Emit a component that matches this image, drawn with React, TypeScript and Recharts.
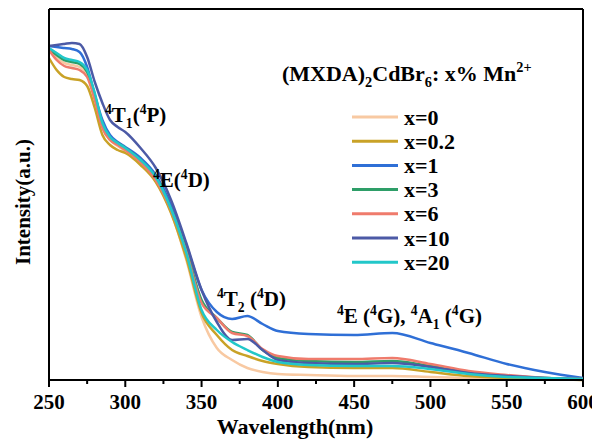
import { LineChart, Line, XAxis, YAxis, ReferenceLine } from "recharts";

const wavelengths = [250, 255, 260, 265, 270, 275, 280, 285, 290, 295, 300, 310, 320, 330, 340, 350, 360, 370, 380, 390, 400, 420, 450, 475, 500, 525, 550, 575, 600];

// absorbance in arbitrary units
const x0 = [330, 322, 317, 315, 313, 306, 282, 253, 240, 234, 229, 217, 199, 168, 120, 63, 32, 20, 12, 8, 6, 5, 4, 4, 3, 2, 1, 1, 0];
const x02 = [322, 310, 303, 301, 300, 294, 272, 245, 235, 230, 227, 215, 198, 167, 122, 67, 45, 30, 24, 19, 16, 13, 12, 12, 8, 4, 2, 1, 0];
const x1 = [334, 333, 332, 331, 328, 313, 285, 260, 245, 238, 233, 222, 205, 175, 135, 90, 68, 61, 64, 56, 49, 46, 45, 47, 37, 27, 16, 8, 2];
const x3 = [331, 325, 320, 318, 316, 308, 285, 255, 242, 237, 232, 220, 202, 171, 130, 80, 62, 48, 45, 30, 22, 19, 18, 19, 14, 8, 4, 2, 1];
const x6 = [330, 320, 314, 312, 310, 303, 280, 252, 240, 235, 230, 218, 200, 170, 128, 77, 62, 47, 44, 31, 24, 21, 21, 22, 16, 9, 5, 2, 1];
const x10 = [334, 335, 336, 337, 336, 323, 298, 277, 260, 253, 248, 232, 212, 180, 137, 90, 58, 40, 41, 30, 20, 17, 16, 17, 13, 7, 4, 2, 1];
const x20 = [332, 327, 322, 320, 318, 310, 287, 257, 243, 237, 232, 220, 203, 171, 127, 70, 50, 38, 30, 23, 18, 15, 14, 14, 11, 6, 3, 2, 1];

const names = ["x=0", "x=0.2", "x=1", "x=3", "x=6", "x=10", "x=20"];
const colors = ["#f8c9a2", "#c9a227", "#2f6fd6", "#2e9e68", "#ef7b6c", "#4c5aa6", "#22c7c9"];
const values = [x0, x02, x1, x3, x6, x10, x20];

const series = names.map((name, i) => ({ key: "s" + i, name, color: colors[i], values: values[i] }));

const data = wavelengths.map((w, i) => {
  const row: any = { w };
  series.forEach((s) => (row[s.key] = s.values[i]));
  return row;
});

const xTicks = [250, 275, 300, 325, 350, 375, 400, 425, 450, 475, 500, 525, 550, 575, 600];

const FONT = '"Liberation Serif", "Times New Roman", serif';

const XTick = (props: any) => {
  const { x, y, payload } = props;
  const major = payload.value % 50 === 0;
  return (
    <g>
      <line x1={x} x2={x} y1={y} y2={y + (major ? 7 : 4)} stroke="#000" strokeWidth={2} />
      {major && (
        <text x={x} y={y + 29} textAnchor="middle" fontFamily={FONT} fontWeight="bold" fontSize={21} fill="#000">
          {payload.value}
        </text>
      )}
    </g>
  );
};

type Part = { t: string; k?: "sup" | "sub" };

const Rich = ({ x, y, parts, size }: { x: number; y: number; parts: Part[]; size: number }) => {
  let cur = 0;
  return (
    <text x={x} y={y} fontFamily={FONT} fontWeight="bold" fill="#000">
      {parts.map((p, i) => {
        const target = p.k === "sup" ? -size * 0.4 : p.k === "sub" ? size * 0.28 : 0;
        const dy = target - cur;
        cur = target;
        return (
          <tspan key={i} dy={dy} fontSize={p.k ? size * 0.65 : size}>
            {p.t}
          </tspan>
        );
      })}
    </text>
  );
};

const Overlay = () => (
  <svg width={592} height={433} style={{ position: "absolute", left: 0, top: 0, pointerEvents: "none" }}>
    <Rich x={97} y={114} size={21} parts={[{ t: "4", k: "sup" }, { t: "T" }, { t: "1", k: "sub" }, { t: "(" }, { t: "4", k: "sup" }, { t: "P)" }]} />
    <Rich x={145} y={179} size={21} parts={[{ t: "4", k: "sup" }, { t: "E(" }, { t: "4", k: "sup" }, { t: "D)" }]} />
    <Rich x={209} y={298} size={21} parts={[{ t: "4", k: "sup" }, { t: "T" }, { t: "2", k: "sub" }, { t: " (" }, { t: "4", k: "sup" }, { t: "D)" }]} />
    <Rich
      x={329}
      y={315}
      size={21}
      parts={[
        { t: "4", k: "sup" },
        { t: "E (" },
        { t: "4", k: "sup" },
        { t: "G), " },
        { t: "4", k: "sup" },
        { t: "A" },
        { t: "1", k: "sub" },
        { t: " (" },
        { t: "4", k: "sup" },
        { t: "G)" },
      ]}
    />
    <Rich
      x={274}
      y={73}
      size={22}
      parts={[{ t: "(MXDA)" }, { t: "2", k: "sub" }, { t: "CdBr" }, { t: "6", k: "sub" }, { t: ": x% Mn" }, { t: "2+", k: "sup" }]}
    />
    {series.map((s, i) => {
      const y = 109 + i * 24.2;
      return (
        <g key={s.key}>
          <line x1={344} x2={390} y1={y} y2={y} stroke={s.color} strokeWidth={3} />
          <text x={396} y={y + 7.5} fontFamily={FONT} fontWeight="bold" fontSize={22} fill="#000">
            {s.name}
          </text>
        </g>
      );
    })}
  </svg>
);

const App = () => {
  return (
    <div style={{ position: "relative", width: 592, height: 433 }}>
      <LineChart width={592} height={433} data={data} margin={{ top: 1, right: 17, left: 0, bottom: 21 }}>
        <XAxis
          type="number"
          dataKey="w"
          domain={[250, 600]}
          ticks={xTicks}
          interval={0}
          tick={<XTick />}
          tickLine={false}
          tickSize={0}
          tickMargin={0}
          height={40}
          axisLine={{ stroke: "#000", strokeWidth: 2 }}
          label={{
            content: () => (
              <text x={287} y={426} textAnchor="middle" fontFamily={FONT} fontWeight="bold" fontSize={22} fill="#000">
                Wavelength(nm)
              </text>
            ),
          }}
        />
        <YAxis
          type="number"
          domain={[0, 371]}
          tick={false}
          tickLine={false}
          width={41}
          axisLine={{ stroke: "#000", strokeWidth: 2 }}
          label={{
            content: () => (
              <text
                x={15}
                y={194}
                transform="rotate(-90 15 194)"
                textAnchor="middle"
                dominantBaseline="central"
                fontFamily={FONT}
                fontWeight="bold"
                fontSize={21}
                fill="#000"
              >
                Intensity(a.u.)
              </text>
            ),
          }}
        />
        <ReferenceLine y={371} stroke="#000" strokeWidth={2} />
        <ReferenceLine x={600} stroke="#000" strokeWidth={2} />
        {series.map((s) => (
          <Line
            key={s.key}
            dataKey={s.key}
            name={s.name}
            type="monotone"
            stroke={s.color}
            strokeWidth={2.5}
            dot={false}
            isAnimationActive={false}
          />
        ))}
      </LineChart>
      <Overlay />
    </div>
  );
};

export default App;
